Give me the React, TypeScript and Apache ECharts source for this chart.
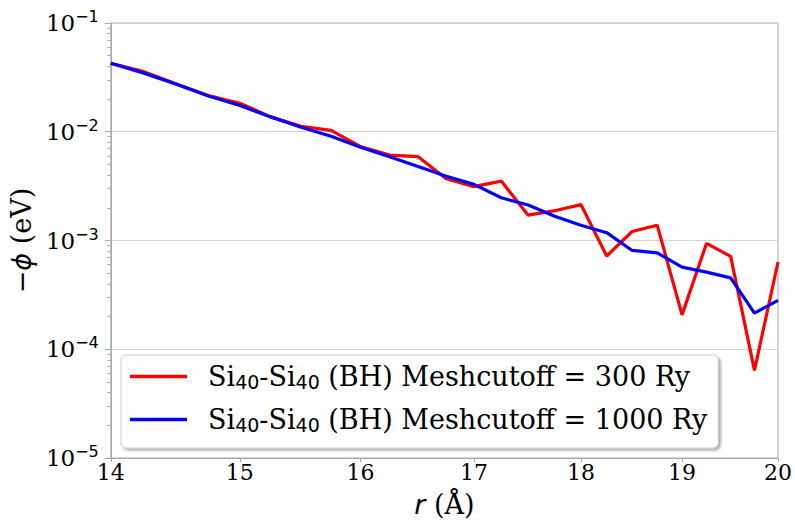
import React, { useEffect, useRef } from "react";
import * as echarts from "echarts";

const rValues = [14, 14.25, 14.5, 14.75, 15, 15.25, 15.5, 15.75, 16, 16.25, 16.5, 16.75, 17, 17.25, 17.5, 17.75, 18, 18.25, 18.5, 18.75, 19, 19.25, 19.5, 19.75, 20];
const phi300 = [0.0427, 0.0357, 0.0275, 0.0215, 0.0183, 0.0137, 0.0112, 0.0103, 0.0073, 0.0061, 0.0059, 0.0037, 0.00313, 0.00352, 0.00171, 0.00188, 0.00214, 0.00072, 0.00121, 0.00138, 0.000207, 0.00094, 0.000715, 0.000064, 0.000634];
const phi1000 = [0.0427, 0.0346, 0.0274, 0.0213, 0.0174, 0.0137, 0.011, 0.0091, 0.0072, 0.0059, 0.0048, 0.0039, 0.00328, 0.00247, 0.00212, 0.00167, 0.00138, 0.00118, 0.00081, 0.00077, 0.000569, 0.000512, 0.000453, 0.000215, 0.000282];
const xTicks = [14, 15, 16, 17, 18, 19, 20];
const yDecades = [1e-5, 1e-4, 1e-3, 1e-2, 1e-1];
const minorMultipliers = [2, 3, 4, 5, 6, 7, 8, 9];
const seriesNames = [
  "Si{sub|40}-Si{sub|40} (BH) Meshcutoff = 300 Ry",
  "Si{sub|40}-Si{sub|40} (BH) Meshcutoff = 1000 Ry",
];
const names = ["300", "1000"];

const SERIF = "DejaVu Serif";
const GRAY = "#a9a9a9";

export default function App() {
  const ref = useRef<HTMLDivElement>(null);
  useEffect(() => {
    if (!ref.current) return;
    const chart = echarts.init(ref.current, undefined, { renderer: "svg" });
    const yMinor: number[] = [];
    yDecades.slice(0, 4).forEach((d) => minorMultipliers.forEach((m) => yMinor.push(+(d * m).toPrecision(3))));
    const mk = (arr: number[]) => rValues.map((r, i) => [r, arr[i]]);
    chart.setOption({
      animation: false,
      backgroundColor: "#ffffff",
      grid: { left: 107, right: 16, top: 23, bottom: 64, show: true, borderColor: GRAY, borderWidth: 1, backgroundColor: "transparent" },
      legend: {
        orient: "vertical",
        left: 121,
        top: 355,
        data: names,
        icon: "rect",
        itemWidth: 57,
        itemHeight: 3.5,
        itemGap: 15,
        padding: [8, 11, 14, 9],
        backgroundColor: "#ffffff",
        borderColor: "#cccccc",
        borderWidth: 1,
        borderRadius: 5,
        shadowBlur: 3,
        shadowOffsetX: 2,
        shadowOffsetY: 2,
        shadowColor: "rgba(0,0,0,0.35)",
        formatter: (n: string) => (n === "300" ? seriesNames[0] : seriesNames[1]),
        textStyle: {
          fontFamily: SERIF,
          fontSize: 27,
          color: "#000",
          padding: [0, 0, 0, 16],
          rich: {
            sub: { fontFamily: "DejaVu Sans", fontSize: 19, padding: [10, 0, 0, 0] },
          },
        },
      },
      xAxis: {
        type: "log",
        min: 14,
        max: 20,
        name: "{i|r} ({n|Å})",
        nameLocation: "middle",
        nameGap: 33,
        nameTextStyle: {
          fontFamily: SERIF,
          fontSize: 27,
          color: "#000",
          verticalAlign: "top",
          rich: {
            i: { fontFamily: "DejaVu Sans", fontStyle: "italic", fontSize: 27 },
            n: { fontFamily: SERIF, fontSize: 27 },
          },
        },
        axisLine: { show: true, lineStyle: { color: GRAY } },
        axisTick: { show: true, length: 4, lineStyle: { color: GRAY }, customValues: xTicks },
        axisLabel: { customValues: xTicks, fontFamily: SERIF, fontSize: 22, color: "#000", margin: 3 },
        splitLine: { show: false },
        minorTick: { show: false },
      },
      yAxis: [
        {
          type: "log",
          logBase: 10,
          min: 1e-5,
          max: 1e-1,
          name: "−{i|ϕ} (eV)",
          nameLocation: "middle",
          nameGap: 62,
          nameTextStyle: {
            fontFamily: SERIF,
            fontSize: 27,
            color: "#000",
            rich: { i: { fontFamily: "DejaVu Sans", fontStyle: "italic", fontSize: 27 } },
          },
          axisLine: { show: true, lineStyle: { color: GRAY } },
          axisTick: { show: true, length: 6, lineStyle: { color: GRAY }, customValues: yDecades },
          axisLabel: {
            customValues: yDecades,
            margin: 12,
            formatter: (v: number) => `{b|10}{s|−${-Math.round(Math.log10(v))}}`,
            rich: {
              b: { fontFamily: SERIF, fontSize: 23, color: "#000", lineHeight: 26 },
              s: { fontFamily: "DejaVu Sans", fontSize: 16, color: "#000", verticalAlign: "top", padding: [0, 0, 13, 0] },
            },
          },
          splitLine: { show: true, lineStyle: { color: "#d3d3d3", width: 1 } },
        },
        {
          type: "log",
          logBase: 10,
          min: 1e-5,
          max: 1e-1,
          position: "left",
          axisLine: { show: false },
          axisTick: { show: true, length: 3.5, lineStyle: { color: GRAY }, customValues: yMinor },
          axisLabel: { show: false },
          splitLine: { show: false },
        },
      ],
      series: [
        { name: "300", type: "line", data: mk(phi300), showSymbol: false, lineStyle: { color: "#ff0000", width: 3.2 }, itemStyle: { color: "#ff0000" } },
        { name: "1000", type: "line", data: mk(phi1000), showSymbol: false, lineStyle: { color: "#0000ff", width: 3.2 }, itemStyle: { color: "#0000ff" } },
      ],
    });
    return () => chart.dispose();
  }, []);
  return <div ref={ref} style={{ width: 795, height: 523, position: "fixed", left: 0, top: 0 }} />;
}
